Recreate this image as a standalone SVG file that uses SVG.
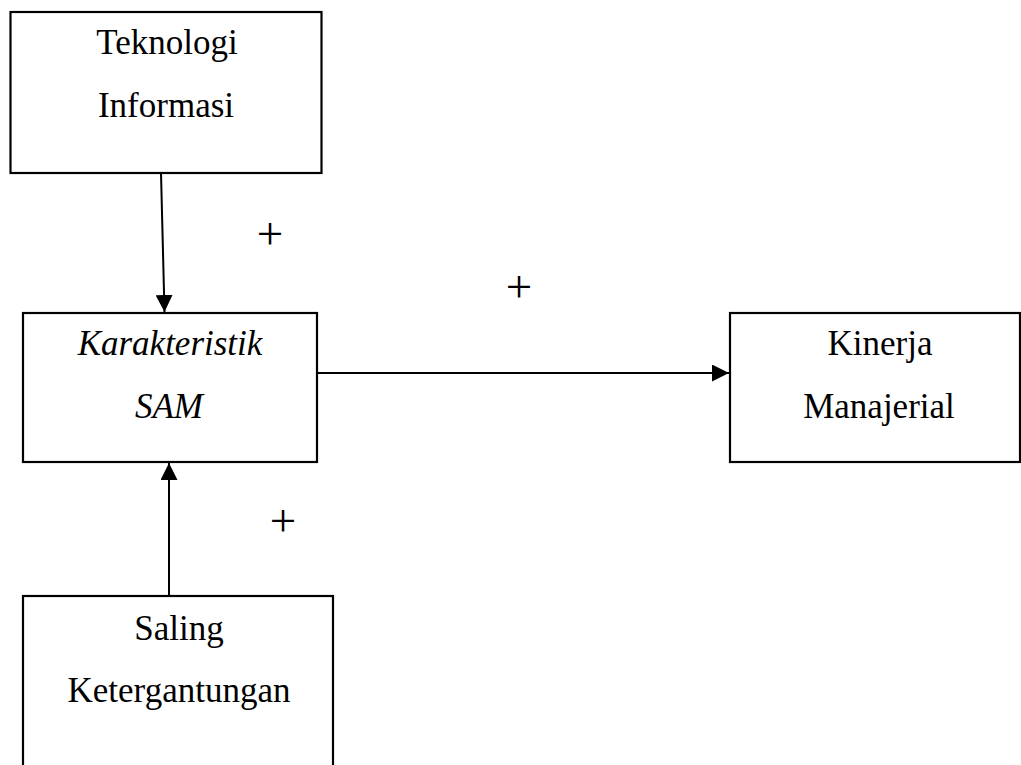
<svg xmlns="http://www.w3.org/2000/svg" width="1021" height="765" viewBox="0 0 1021 765">
<style>
.box{fill:#fff;stroke:#000;stroke-width:2.2}
.lbl{font-family:"Liberation Serif","Times New Roman",serif;font-size:35px;fill:#000;text-anchor:middle}
.it{font-style:italic}
.edge{stroke:#000;stroke-width:2;fill:none}
.plus{font-family:"Liberation Serif","Times New Roman",serif;font-size:47px;fill:#000;text-anchor:middle}
</style>
<defs>
<marker id="ah" markerWidth="17" markerHeight="17" refX="17" refY="8.5" orient="auto" markerUnits="userSpaceOnUse">
<path d="M0,0 L17,8.5 L0,17 Z" fill="#000"/>
</marker>
</defs>
<rect width="1021" height="765" fill="#fff"/>
<g id="node-teknologi">
<rect class="box" x="10.5" y="12" width="311" height="161"/>
<text class="lbl" x="167" y="54">Teknologi</text>
<text class="lbl" x="166" y="117">Informasi</text>
</g>
<g id="node-karakteristik">
<rect class="box" x="23" y="313" width="294" height="149"/>
<text class="lbl it" x="170" y="355">Karakteristik</text>
<text class="lbl it" x="169" y="418">SAM</text>
</g>
<g id="node-kinerja">
<rect class="box" x="730" y="313" width="290" height="149"/>
<text class="lbl" x="880" y="355">Kinerja</text>
<text class="lbl" x="879" y="418">Manajerial</text>
</g>
<g id="node-saling">
<rect class="box" x="23" y="596" width="310" height="180"/>
<text class="lbl" x="179" y="640">Saling</text>
<text class="lbl" x="179" y="702">Ketergantungan</text>
</g>
<g id="connectors">
<line class="edge" x1="161" y1="173" x2="164.5" y2="312" marker-end="url(#ah)"/>
<line class="edge" x1="317" y1="373" x2="729" y2="373" marker-end="url(#ah)"/>
<line class="edge" x1="169" y1="596" x2="169" y2="463" marker-end="url(#ah)"/>
<text class="plus" x="270" y="249">+</text>
<text class="plus" x="519" y="302">+</text>
<text class="plus" x="283" y="536">+</text>
</g>
</svg>
